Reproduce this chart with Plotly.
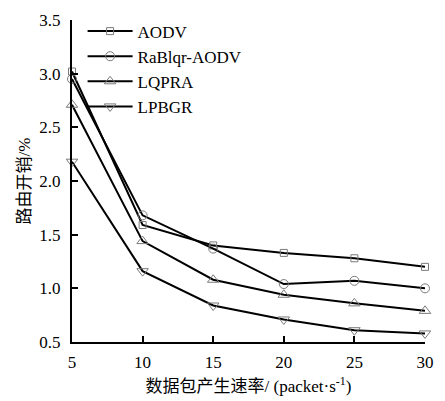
import plotly.graph_objects as go

rate = [5, 10, 15, 20, 25, 30]
aodv = [3.02, 1.59, 1.40, 1.33, 1.28, 1.20]
rablqr = [2.95, 1.68, 1.37, 1.04, 1.07, 1.00]
lqpra = [2.71, 1.44, 1.08, 0.94, 0.86, 0.79]
lpbgr = [2.18, 1.16, 0.84, 0.71, 0.61, 0.58]

series = [
    ("AODV", aodv, "square-open", 7),
    ("RaBlqr-AODV", rablqr, "circle-open", 9),
    ("LQPRA", lqpra, "triangle-up-open", 10),
    ("LPBGR", lpbgr, "triangle-down-open", 10),
]

x_ticks = [5, 10, 15, 20, 25, 30]
y_ticks = [0.5, 1.0, 1.5, 2.0, 2.5, 3.0, 3.5]

serif = "Liberation Serif, Times New Roman, serif"
cjk = "Noto Sans CJK SC"

fig = go.Figure()
for name, vals, sym, sz in series:
    fig.add_trace(go.Scatter(
        x=rate, y=vals, name=name, mode="lines+markers",
        line=dict(color="black", width=2),
        marker=dict(symbol=sym, size=sz, color="#7a7a7a",
                    line=dict(color="#7a7a7a", width=1)),
        cliponaxis=False,
    ))

x_title = ("数据包产生速率"
           f"<span style=\"font-family:{serif}\">/ (packet·s<sup>-1</sup>)</span>")
y_title = f"路由开销<span style=\"font-family:{serif}\">/%</span>"

fig.update_layout(
    width=445, height=401,
    margin=dict(l=72, r=11, t=20, b=56),
    plot_bgcolor="white", paper_bgcolor="white",
    font=dict(family=serif, size=17, color="black"),
    showlegend=True,
    legend=dict(x=0.03, y=1.02, xanchor="left", yanchor="top",
                bgcolor="rgba(0,0,0,0)", font=dict(family=serif, size=17),
                tracegroupgap=0, itemwidth=45),
    xaxis=dict(
        range=[5, 30], tickvals=x_ticks, ticks="inside", ticklen=6,
        tickwidth=2, tickcolor="black", showline=True, linecolor="black",
        linewidth=2, showgrid=False, zeroline=False,
        tickfont=dict(family=serif, size=17), ticklabelstandoff=4,
        title=dict(text=x_title, font=dict(family=cjk, size=17), standoff=6),
    ),
    yaxis=dict(
        range=[0.5, 3.5], tickvals=y_ticks, tickformat=".1f",
        ticks="inside", ticklen=6, tickwidth=2, tickcolor="black",
        showline=True, linecolor="black", linewidth=2, showgrid=False,
        zeroline=False, tickfont=dict(family=serif, size=17),
        ticklabelstandoff=6,
        title=dict(text=y_title, font=dict(family=cjk, size=17), standoff=4),
    ),
)

fig.write_html("out.html")
